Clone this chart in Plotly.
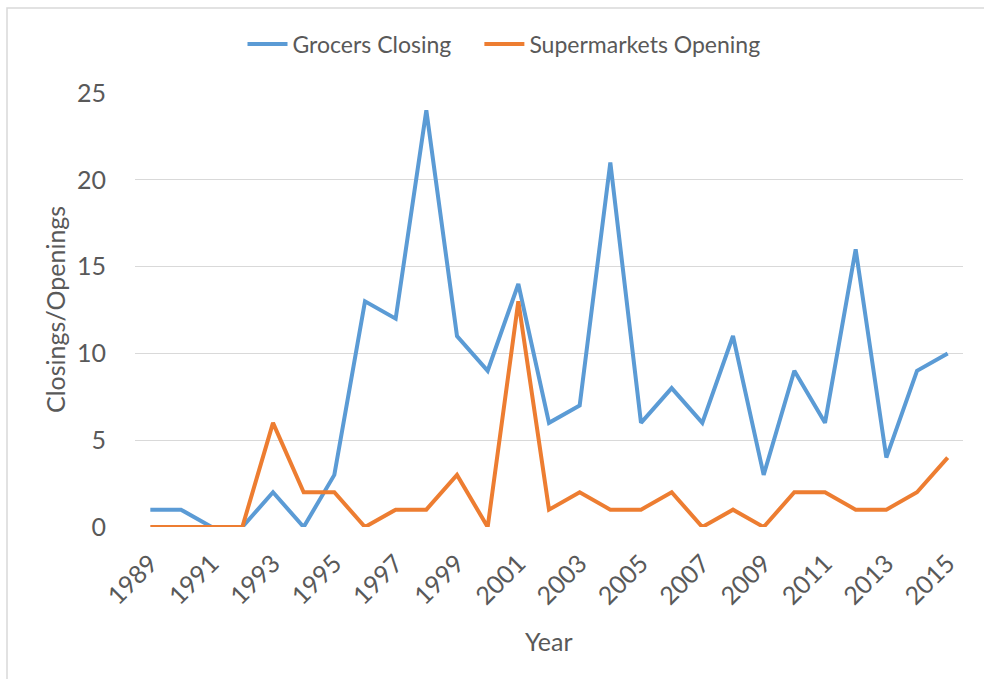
import plotly.graph_objects as go

years = list(range(1989, 2016))
grocers_closing = [1, 1, 0, 0, 2, 0, 3, 13, 12, 24, 11, 9, 14, 6, 7, 21, 6, 8, 6, 11, 3, 9, 6, 16, 4, 9, 10]
supermarkets_opening = [0, 0, 0, 0, 6, 2, 2, 0, 1, 1, 3, 0, 13, 1, 2, 1, 1, 2, 0, 1, 0, 2, 2, 1, 1, 2, 4]
x_ticks = list(range(1989, 2016, 2))
y_ticks = [0, 5, 10, 15, 20, 25]

W, H = 984, 679
L, R, T, B = 135, 21, 93, 152
pw, ph = W - L - R, H - T - B

FONT = "Lato, Liberation Sans, Arial, sans-serif"
GREY = "#595959"
PAD = "\u2003\u00a0"  # extra spacing between legend entries

fig = go.Figure()
fig.add_trace(go.Scatter(x=years, y=grocers_closing, mode="lines", name="Grocers Closing" + PAD,
                         line=dict(color="#5B9BD5", width=4)))
fig.add_trace(go.Scatter(x=years, y=supermarkets_opening, mode="lines", name="Supermarkets Opening",
                         line=dict(color="#ED7D31", width=4)))

def px_x(p):
    return (p - L) / pw

def px_y(p):
    return (H - B - p) / ph

fig.update_layout(
    width=W, height=H,
    margin=dict(l=L, r=R, t=T, b=B),
    paper_bgcolor="white", plot_bgcolor="white",
    font=dict(family=FONT, color=GREY, size=23),
    xaxis=dict(range=[1988.5, 2015.5], tickvals=x_ticks, ticktext=[str(v) for v in x_ticks],
               tickangle=-45, showgrid=False, zeroline=False, showline=False, ticks="",
               ticklabelstandoff=16, tickfont=dict(size=25, color=GREY)),
    yaxis=dict(range=[0, 25], tickvals=y_ticks, showgrid=True, gridcolor="#D9D9D9", gridwidth=1.3,
               zeroline=False, showline=False, ticks="", ticklabelstandoff=28,
               tickfont=dict(size=25, color=GREY)),
    legend=dict(orientation="h", x=px_x(504), y=px_y(44), xanchor="center", yanchor="middle",
                font=dict(size=23, color=GREY), itemwidth=40, bgcolor="rgba(0,0,0,0)"),
    showlegend=True,
    annotations=[
        dict(text="Closings/Openings", xref="paper", yref="paper", x=px_x(55), y=px_y(310),
             showarrow=False, textangle=-90, font=dict(size=25, color=GREY),
             xanchor="center", yanchor="middle"),
        dict(text="Year", xref="paper", yref="paper", x=px_x(549), y=px_y(641),
             showarrow=False, font=dict(size=25, color=GREY), xanchor="center", yanchor="middle"),
    ],
    shapes=[
        dict(type="rect", xref="paper", yref="paper",
             x0=px_x(7), x1=px_x(1000), y0=px_y(700), y1=px_y(8),
             line=dict(color="#D9D9D9", width=1.5), fillcolor="rgba(0,0,0,0)", layer="below"),
    ],
)

fig.write_html("out.html")
